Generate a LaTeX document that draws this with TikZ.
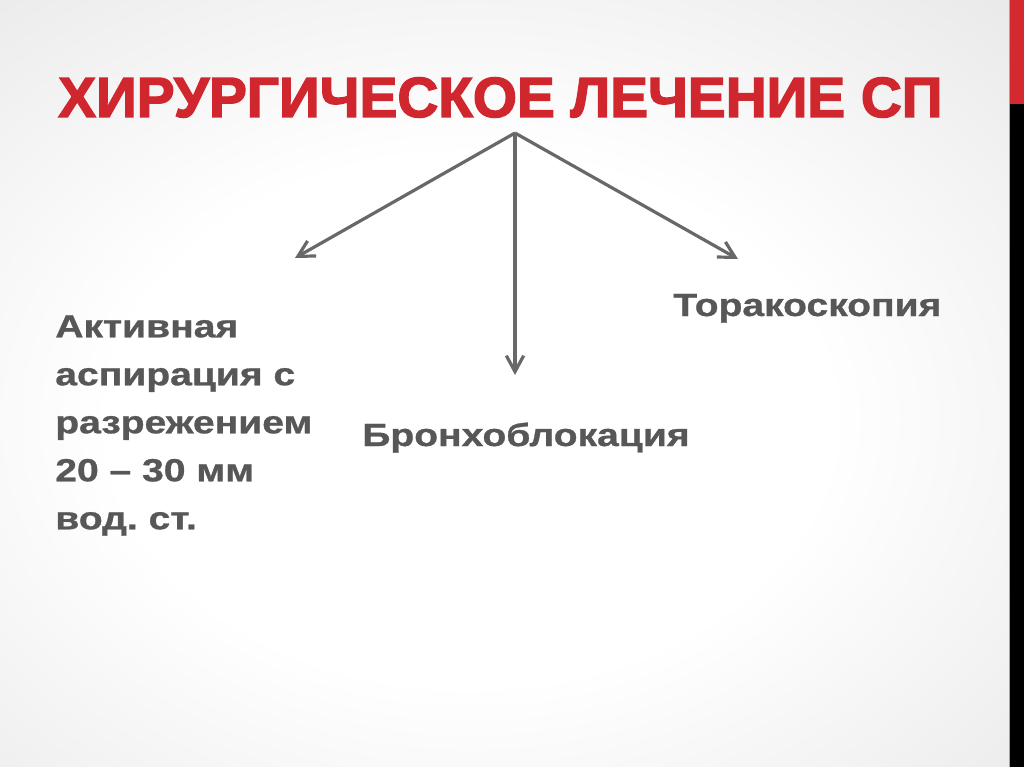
\documentclass[tikz,border=0pt]{standalone}
\usepackage{fontspec}
\setmainfont{Liberation Sans}
\newfontfamily\titlefont[BoldFeatures={FakeBold=2.5}]{Liberation Sans}
\newfontfamily\bodyfont[BoldFeatures={FakeBold=0.8}]{Liberation Sans}
\usetikzlibrary{arrows.meta}
\definecolor{titlered}{HTML}{D0262D}
\definecolor{bodygray}{HTML}{575757}
\definecolor{arrowgray}{HTML}{686868}
\definecolor{barred}{HTML}{D42A2F}
\pgfdeclareradialshading{slidebg}{\pgfpoint{0bp}{0bp}}{%
  color(0bp)=(white); color(15bp)=(white); color(36bp)=(black!10); color(50bp)=(black!17); color(72bp)=(black!23)}
\tikzset{
  bodytext/.style={font=\bodyfont\fontsize{24pt}{36pt}\selectfont\bfseries\frenchspacing, text=bodygray, inner sep=0pt, xscale=1.22, transform shape},
  titletext/.style={font=\titlefont\fontsize{42.5pt}{50pt}\selectfont\bfseries, text=titlered, inner sep=0pt},
  branch/.style={draw=arrowgray, line width=2.4pt, -{Straight Barb[length=12pt,width=13pt,line width=2.4pt]}}
}
\begin{document}
\begin{tikzpicture}[x=0.75pt,y=-0.75pt]
\useasboundingbox (0,0) rectangle (1024,767);
% background
\fill[black!20] (0,0) rectangle (1009,767);
\shade[shading=slidebg] (-130,-20) rectangle (1070,860);
\fill[gray!70] (1008.5,0) rectangle (1010,767);
\fill[barred] (1010,0) rectangle (1024,104);
\fill[black] (1010,104) rectangle (1024,767);
% title
\node[titletext, anchor=base west] (title) at (58,117) {ХИРУРГИЧЕСКОЕ ЛЕЧЕНИЕ СП};
\coordinate (hub) at (515,133);
% labels
\node[bodytext, anchor=north west, align=left] (left) at (55,315)
  {Активная\\аспирация с\\разрежением\\20 – 30 мм\\вод. ст.};
\node[bodytext, anchor=base west] (mid) at (362,446) {Бронхоблокация};
\node[bodytext, anchor=base west] (right) at (673,316) {Торакоскопия};
\coordinate (lefttip) at (295,258);
\coordinate (midtip) at (515,375);
\coordinate (righttip) at (738,259);
\draw[branch] (hub) -- (lefttip);
\draw[branch] (hub) -- (midtip);
\draw[branch] (hub) -- (righttip);
\end{tikzpicture}
\end{document}
